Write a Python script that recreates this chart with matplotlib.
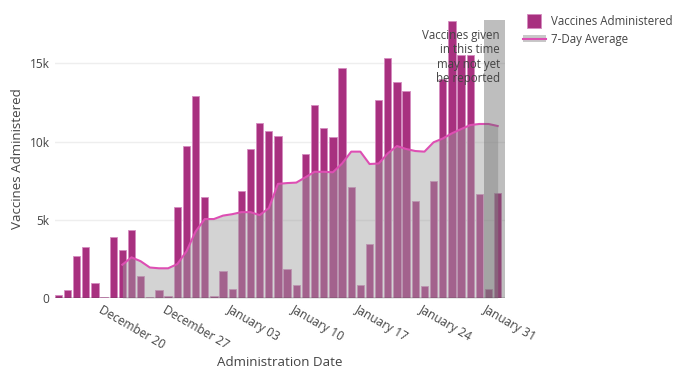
import numpy as np
import pandas as pd
import matplotlib
matplotlib.use("Agg")
import matplotlib.pyplot as plt
import matplotlib.dates as mdates
import matplotlib.transforms as mtransforms
from matplotlib.lines import Line2D
from matplotlib.patches import Patch

plt.rcParams['font.family'] = ['Open Sans', 'DejaVu Sans']

# daily doses, one bar per day starting 2020-12-16
start_date = "2020-12-16"
doses = [200, 490, 2660, 3280, 960, 80, 3890, 3040, 4380, 1380,
         50, 510, 130, 5850, 9700, 12920, 6430, 150, 1700, 580,
         6830, 9550, 11220, 10700, 10330, 1860, 860, 9230, 12360, 10890,
         10290, 14720, 7100, 850, 3470, 12680, 15370, 13800, 13230, 6230,
         740, 7470, 14000, 17700, 15530, 15530, 6640, 570, 6740]

# 7-day average, first value belongs to the 8th day
avg_offset = 7
avg7 = [2130, 2600, 2350, 1950, 1900, 1900, 2170, 2980, 4250, 5050,
        5050, 5270, 5360, 5490, 5490, 5300, 5750, 7300, 7350, 7380,
        7720, 8070, 8070, 8040, 8600, 9360, 9360, 8570, 8600, 9250,
        9720, 9530, 9400, 9360, 9960, 10200, 10530, 10800, 11060, 11130,
        11130, 11000]

tick_dates = ["2020-12-20", "2020-12-27", "2021-01-03", "2021-01-10",
              "2021-01-17", "2021-01-24", "2021-01-31"]
note = "Vaccines given\nin this time\nmay not yet\nbe reported"

dates = pd.date_range(start_date, periods=len(doses), freq="D")
xd = mdates.date2num(dates)
xa = xd[avg_offset:]

bar_color = "#a8307f"
bar_edge = "#d58cc0"
line_color = "#dd4fb3"
text_color = "#444444"

W, H = 682, 374
fig = plt.figure(figsize=(W/100, H/100), dpi=100)
ax = fig.add_axes([55/W, 76/H, 450/W, 278/H])

ax.bar(xd, doses, width=0.8, color=bar_color, edgecolor=bar_edge,
       linewidth=0.6, zorder=2)
ax.fill_between(xa, 0, avg7, color="#9f9f9f", alpha=0.46, linewidth=0, zorder=3)
ax.plot(xa, avg7, color=line_color, lw=1.5, zorder=4)

# not-yet-reported window
ax.axvspan(xd[0] + 46.5, xd[0] + 48.8, color="#636363", alpha=0.41,
           linewidth=0, zorder=5)

ax.set_xlim(xd[0] - 0.36, xd[0] + 48.8)
ax.set_ylim(0, 17780)

ax.set_yticks([0, 5000, 10000, 15000])
ax.set_yticklabels(["0", "5k", "10k", "15k"])

# date labels drawn by hand so they can sit like the angled plotly ones
ticks = mdates.date2num(pd.to_datetime(tick_dates))
ax.set_xticks(ticks)
ax.set_xticklabels([])
off = mtransforms.ScaledTranslation(8/100, -5/100, fig.dpi_scale_trans)
for t, d in zip(ticks, tick_dates):
    ax.text(t, 0, pd.Timestamp(d).strftime("%B %d"),
            transform=ax.get_xaxis_transform() + off,
            rotation=-30, rotation_mode="anchor", ha="left", va="top",
            fontsize=8.6, color=text_color)

ax.tick_params(axis="both", length=0, colors=text_color, labelsize=8.6)
ax.tick_params(axis="y", pad=4)
ax.grid(axis="y", color="#eeeeee", lw=1, zorder=0)
ax.set_axisbelow(True)
for s in ax.spines.values():
    s.set_visible(False)
ax.axhline(0, color=text_color, lw=1.0, zorder=6)

fig.text(280/W, 1 - 362/H, "Administration Date", ha="center", va="center",
         fontsize=9.6, color=text_color)
fig.text(18/W, 1 - 159/H, "Vaccines Administered", ha="center", va="center",
         rotation=90, fontsize=9.6, color=text_color)

fig.text(500/W, 1 - 29/H, note, ha="right", va="top", fontsize=8.3,
         color=text_color, linespacing=1.13, zorder=10)

handles = [Line2D([], [], ls="none", marker="s", markersize=9.5,
                  markerfacecolor=bar_color, markeredgecolor=bar_edge,
                  markeredgewidth=0.6),
           (Patch(facecolor="#c8c8c8", edgecolor="none"),
            Line2D([], [], color=line_color, lw=1.5))]
fig.legend(handles, ["Vaccines Administered", "7-Day Average"],
           loc="upper left", bbox_to_anchor=(518/W, 1 - 10/H),
           frameon=False, fontsize=8.3, labelcolor=text_color,
           handlelength=2.0, handleheight=0.5, handletextpad=0.5,
           labelspacing=0.45, borderaxespad=0)

fig.savefig("out.png", dpi=100)
